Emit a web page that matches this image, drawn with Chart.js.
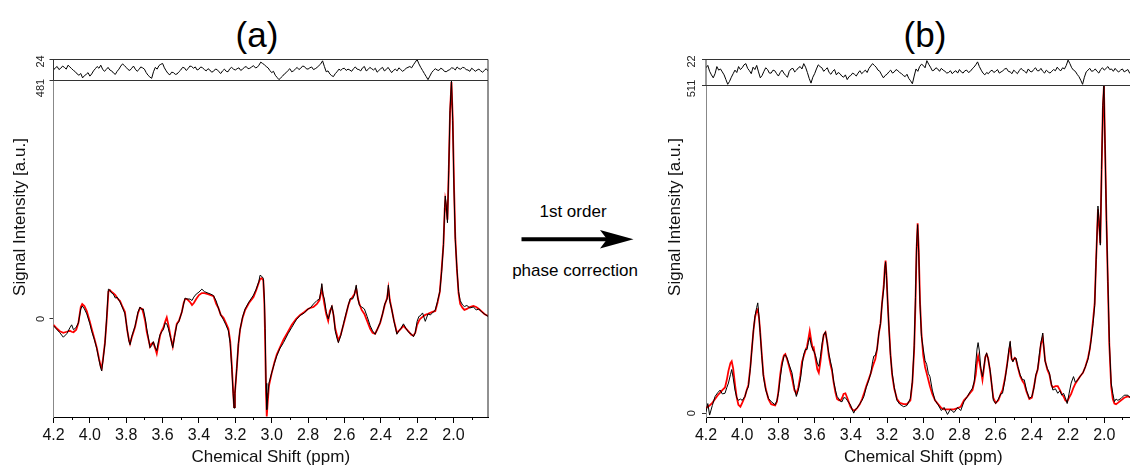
<!DOCTYPE html>
<html>
<head>
<meta charset="utf-8">
<script src="https://cdn.jsdelivr.net/npm/chart.js@4.4.1/dist/chart.umd.min.js"></script>
<style>
  html, body { margin: 0; padding: 0; background: #fff; }
  body { position: relative; width: 1130px; height: 468px; overflow: hidden; font-family: 'Liberation Sans', Arial, sans-serif; }
  canvas { position: absolute; top: 0; }
  .txt { position: absolute; transform: translate(-50%, -50%); white-space: nowrap; color: #000; line-height: 1; }
</style>
</head>
<body>
<div class="txt" style="left:257px;top:34px;font-size:35px;">(a)</div>
<div class="txt" style="left:925px;top:34px;font-size:35px;">(b)</div>
<div class="txt" style="left:573px;top:211px;font-size:17px;">1st order</div>
<div class="txt" style="left:575px;top:270px;font-size:17px;">phase correction</div>
<svg style="position:absolute;left:515px;top:225px" width="125" height="30">
  <line x1="6.5" y1="14.3" x2="96" y2="14.3" stroke="#000" stroke-width="4"/>
  <polygon points="118.5,14.3 85,5 92,14.3 85,23.6" fill="#000"/>
</svg>
<canvas id="mainA" width="500" height="468" style="left:0"></canvas>
<canvas id="resA" width="500" height="468" style="left:0"></canvas>
<canvas id="mainB" width="510" height="468" style="left:640px"></canvas>
<canvas id="resB" width="510" height="468" style="left:640px"></canvas>
<script>
// Phase correction figure: spectrum (black), fit (red), residual on top

Chart.defaults.font.family = "'Liberation Sans', Arial, sans-serif";
Chart.defaults.color = '#111';

// x axis ticks (ppm)
const xTicks = [4.2, 4.0, 3.8, 3.6, 3.4, 3.2, 3.0, 2.8, 2.6, 2.4, 2.2, 2.0];
const xMinorTicks = [4.1, 3.9, 3.7, 3.5, 3.3, 3.1, 2.9, 2.7, 2.5, 2.3, 2.1, 1.9];

// y axis ticks
const yTicksA = [0, 481];
const resTicksA = [24];
const yTicksB = [0, 511];
const resTicksB = [22];

// (a) before 1st order phase correction
const ppmA = [
  4.200,4.185,4.165,4.146,4.127,4.110,4.100,4.090,4.075,4.063,
  4.050,4.042,4.030,4.017,4.000,3.990,3.975,3.962,3.950,3.940,
  3.935,3.928,3.917,3.908,3.898,3.890,3.880,3.871,3.860,3.850,
  3.834,3.820,3.807,3.795,3.785,3.779,3.770,3.751,3.735,3.724,
  3.712,3.706,3.695,3.687,3.675,3.669,3.660,3.651,3.640,3.632,
  3.622,3.614,3.605,3.596,3.585,3.577,3.568,3.555,3.544,3.535,
  3.522,3.510,3.494,3.484,3.476,3.465,3.449,3.438,3.428,3.415,
  3.400,3.384,3.370,3.350,3.335,3.320,3.305,3.293,3.280,3.265,
  3.252,3.238,3.228,3.219,3.212,3.207,3.202,3.192,3.183,3.174,
  3.160,3.146,3.125,3.100,3.085,3.070,3.064,3.055,3.046,3.040,
  3.036,3.031,3.027,3.022,3.015,3.000,2.985,2.972,2.955,2.935,
  2.910,2.889,2.865,2.843,2.820,2.800,2.788,2.770,2.751,2.737,
  2.730,2.724,2.718,2.710,2.700,2.689,2.680,2.669,2.660,2.650,
  2.640,2.633,2.620,2.605,2.590,2.578,2.568,2.555,2.545,2.535,
  2.525,2.517,2.505,2.490,2.475,2.458,2.445,2.431,2.420,2.403,
  2.390,2.378,2.365,2.358,2.350,2.340,2.327,2.311,2.300,2.290,
  2.275,2.260,2.245,2.232,2.220,2.210,2.200,2.190,2.183,2.170,
  2.155,2.140,2.128,2.115,2.100,2.088,2.075,2.065,2.055,2.048,
  2.045,2.040,2.033,2.026,2.019,2.011,2.004,1.997,1.990,1.981,
  1.972,1.963,1.950,1.940,1.926,1.910,1.890,1.875,1.860,1.845,
  1.830,1.810
];
const dataA = [
  -14,-20,-28,-37,-30,-18,-12,-22,-17,-8,
  20,26,20,10,-10,-25,-42,-60,-82,-100,
  -105,-85,-50,0,60,58,52,50,42,44,
  34,22,10,-20,-45,-52,-36,-14,14,24,
  18,20,0,-20,-45,-58,-54,-46,-58,-64,
  -44,-32,-26,-22,-8,-10,-20,-40,-58,-38,
  -12,-5,14,30,42,40,40,37,44,50,
  54,60,55,52,50,47,36,22,8,-2,
  -12,-24,-50,-102,-150,-180,-150,-100,-50,-22,
  4,20,34,48,60,76,88,86,82,40,
  -20,-130,-183,-160,-130,-109,-90,-75,-60,-48,
  -30,-17,-2,7,12,20,22,30,37,40,
  55,71,50,40,15,0,10,27,10,-25,
  -40,-48,-34,-10,12,28,41,40,48,68,
  40,27,24,20,5,-14,-24,-31,-22,-7,
  10,30,40,68,35,20,-5,-31,-24,-20,
  -10,-20,-28,-30,-36,-28,-5,5,6,12,
  -5,10,8,12,18,35,55,95,150,225,
  248,230,194,300,420,481,400,260,160,102,
  55,37,28,25,27,22,24,18,20,14,
  10,5
];
const fitA = [
  -12,-18,-25,-28,-26,-24,-26,-27,-22,-8,
  24,30,26,16,-6,-20,-40,-58,-80,-96,
  -100,-82,-48,-5,55,58,54,52,48,42,
  36,24,14,-22,-42,-50,-38,-16,12,22,
  20,12,-6,-26,-46,-56,-50,-48,-60,-70,
  -50,-34,-24,-18,-5,3,-12,-38,-56,-36,
  -10,-4,14,32,40,40,34,28,32,40,
  48,52,52,50,48,46,30,22,8,2,
  -8,-20,-45,-95,-145,-178,-150,-100,-52,-22,
  2,18,32,44,58,74,80,82,78,30,
  -40,-150,-197,-170,-135,-110,-88,-72,-58,-42,
  -26,-12,0,8,14,20,22,24,30,38,
  50,62,48,30,10,-4,16,24,8,-20,
  -34,-44,-32,-12,10,28,38,44,50,62,
  40,30,18,10,-4,-20,-28,-30,-22,-8,
  10,28,42,62,38,20,-4,-28,-24,-20,
  -14,-20,-26,-32,-34,-28,-12,-4,0,4,
  8,10,12,14,16,32,55,100,150,222,
  240,228,200,298,415,478,405,270,165,100,
  52,30,22,18,20,24,26,24,20,15,
  10,6
];

// (b) after 1st order phase correction
const ppmB = [
  4.200,4.190,4.180,4.165,4.150,4.135,4.122,4.110,4.095,4.085,
  4.076,4.065,4.058,4.050,4.040,4.030,4.021,4.010,4.000,3.985,
  3.975,3.966,3.955,3.948,3.938,3.929,3.920,3.914,3.907,3.901,
  3.892,3.883,3.870,3.855,3.840,3.818,3.808,3.800,3.790,3.781,
  3.770,3.762,3.752,3.740,3.725,3.712,3.701,3.690,3.679,3.670,
  3.661,3.650,3.642,3.635,3.627,3.618,3.610,3.605,3.595,3.585,
  3.577,3.568,3.558,3.550,3.540,3.530,3.522,3.512,3.504,3.495,
  3.485,3.476,3.465,3.456,3.448,3.440,3.430,3.420,3.410,3.402,
  3.392,3.384,3.375,3.365,3.350,3.338,3.328,3.315,3.300,3.290,
  3.280,3.273,3.265,3.255,3.245,3.236,3.228,3.218,3.212,3.208,
  3.203,3.196,3.190,3.181,3.172,3.160,3.145,3.130,3.108,3.090,
  3.071,3.060,3.050,3.043,3.037,3.031,3.025,3.018,3.010,3.000,
  2.990,2.981,2.972,2.963,2.950,2.935,2.918,2.900,2.885,2.866,
  2.850,2.830,2.810,2.793,2.775,2.756,2.740,2.728,2.718,2.710,
  2.703,2.697,2.690,2.682,2.673,2.665,2.657,2.650,2.642,2.631,
  2.620,2.613,2.600,2.585,2.572,2.562,2.550,2.543,2.535,2.527,
  2.520,2.512,2.505,2.495,2.488,2.478,2.465,2.452,2.442,2.430,
  2.414,2.400,2.388,2.378,2.368,2.358,2.350,2.340,2.333,2.327,
  2.315,2.303,2.292,2.284,2.270,2.257,2.245,2.235,2.225,2.215,
  2.205,2.195,2.183,2.170,2.160,2.146,2.132,2.118,2.105,2.090,
  2.080,2.072,2.062,2.053,2.045,2.035,2.028,2.022,2.015,2.008,
  2.002,1.996,1.988,1.980,1.972,1.962,1.953,1.944,1.935,1.925,
  1.907,1.890,1.870,1.850,1.830,1.810
];
const dataB = [
  2,15,-3,12,26,32,36,30,31,40,
  47,60,68,55,36,24,20,22,20,26,
  36,41,70,94,130,152,165,172,150,126,
  90,57,36,23,18,13,20,31,55,73,
  88,91,86,75,63,40,26,36,52,72,
  91,100,99,110,118,105,100,97,90,78,
  73,88,110,122,127,108,94,80,70,50,
  36,26,22,18,18,24,24,20,16,13,
  5,0,6,8,15,20,26,40,52,62,
  80,89,90,100,125,140,170,195,225,236,
  215,170,136,90,63,40,20,14,10,12,
  23,50,105,180,260,294,250,170,120,100,
  82,76,62,57,36,20,13,4,9,-2,
  6,1,9,4,18,26,34,39,50,78,
  100,110,97,70,57,72,88,94,85,68,
  40,20,15,22,30,31,50,63,78,100,
  112,85,80,86,86,73,60,52,52,36,
  23,26,40,60,68,94,110,125,100,81,
  70,63,45,36,38,31,35,28,31,24,
  15,30,47,57,48,52,58,63,72,84,
  100,115,140,168,240,323,295,262,380,480,
  511,420,300,205,110,47,31,18,22,20,
  23,28,28,22,25,22
];
const fitB = [
  8,10,12,16,22,28,32,36,40,52,
  66,78,81,70,45,24,13,10,16,26,
  36,44,72,96,128,150,160,162,148,128,
  92,60,38,22,14,12,18,34,60,78,
  90,92,84,72,55,36,30,40,58,80,
  88,98,104,115,128,112,100,102,85,68,
  63,80,105,122,126,110,90,75,66,48,
  32,22,20,20,24,30,31,24,16,10,
  6,4,5,8,14,22,30,42,54,62,
  72,78,84,100,125,140,170,200,228,238,
  215,170,136,92,60,38,22,16,14,14,
  20,48,100,170,255,296,255,175,125,90,
  72,62,52,42,30,20,14,8,6,6,
  6,6,8,10,20,26,32,36,48,60,
  80,89,80,68,52,70,88,92,86,66,
  40,24,16,20,30,36,52,64,80,95,
  105,85,82,86,84,72,58,50,46,34,
  22,24,42,58,68,88,108,118,100,82,
  68,60,44,40,42,42,36,30,26,20,
  18,24,30,40,46,52,58,63,72,86,
  100,118,145,172,240,318,292,265,375,475,
  510,420,300,200,105,42,22,15,14,16,
  20,24,26,24,22,20
];

// residuals (same ppm grid for both panels)
const resPpm = [
  4.20,4.19,4.18,4.17,4.16,4.15,4.14,4.13,4.12,4.11,4.10,4.09,4.08,4.07,4.06,4.05,4.04,4.03,4.02,4.01,
  4.00,3.99,3.98,3.97,3.96,3.95,3.94,3.93,3.92,3.91,3.90,3.89,3.88,3.87,3.86,3.85,3.84,3.83,3.82,3.81,
  3.80,3.79,3.78,3.77,3.76,3.75,3.74,3.73,3.72,3.71,3.70,3.69,3.68,3.67,3.66,3.65,3.64,3.63,3.62,3.61,
  3.60,3.59,3.58,3.57,3.56,3.55,3.54,3.53,3.52,3.51,3.50,3.49,3.48,3.47,3.46,3.45,3.44,3.43,3.42,3.41,
  3.40,3.39,3.38,3.37,3.36,3.35,3.34,3.33,3.32,3.31,3.30,3.29,3.28,3.27,3.26,3.25,3.24,3.23,3.22,3.21,
  3.20,3.19,3.18,3.17,3.16,3.15,3.14,3.13,3.12,3.11,3.10,3.09,3.08,3.07,3.06,3.05,3.04,3.03,3.02,3.01,
  3.00,2.99,2.98,2.97,2.96,2.95,2.94,2.93,2.92,2.91,2.90,2.89,2.88,2.87,2.86,2.85,2.84,2.83,2.82,2.81,
  2.80,2.79,2.78,2.77,2.76,2.75,2.74,2.73,2.72,2.71,2.70,2.69,2.68,2.67,2.66,2.65,2.64,2.63,2.62,2.61,
  2.60,2.59,2.58,2.57,2.56,2.55,2.54,2.53,2.52,2.51,2.50,2.49,2.48,2.47,2.46,2.45,2.44,2.43,2.42,2.41,
  2.40,2.39,2.38,2.37,2.36,2.35,2.34,2.33,2.32,2.31,2.30,2.29,2.28,2.27,2.26,2.25,2.24,2.23,2.22,2.21,
  2.20,2.19,2.18,2.17,2.16,2.15,2.14,2.13,2.12,2.11,2.10,2.09,2.08,2.07,2.06,2.05,2.04,2.03,2.02,2.01,
  2.00,1.99,1.98,1.97,1.96,1.95,1.94,1.93,1.92,1.91,1.90,1.89,1.88,1.87,1.86,1.85,1.84,1.83,1.82,1.81
];
const resA = [
  0,5,8,1,4,9,6,2,11,7,3,-1,-4,-9,-12,-8,-18,-13,-10,-6,
  -14,-9,-2,3,8,4,11,2,-3,1,6,0,-2,-7,-10,-3,2,9,14,10,
  6,1,-1,4,9,2,-3,1,7,5,2,-6,-12,-16,-19,-4,6,2,10,13,
  15,5,-2,-8,-11,-5,-6,-10,-9,-4,0,6,5,-1,3,9,8,4,7,0,
  2,7,5,1,-2,3,0,-5,-3,2,1,-4,-8,-2,2,-3,-4,3,6,2,
  0,3,5,-1,2,6,8,3,4,7,10,5,6,11,18,15,12,8,5,-1,
  -6,-3,-12,-17,-22,-18,-14,-9,-6,-1,3,-4,-2,2,6,1,4,9,8,3,
  2,5,7,1,3,6,10,14,21,8,-4,-2,-9,-13,-15,-8,-4,2,-1,3,
  4,-1,2,0,-3,3,7,2,1,-2,5,8,-2,1,6,3,0,4,-5,-1,
  3,6,-2,1,6,0,-6,-1,2,-2,5,1,-3,0,4,6,8,5,12,18,
  24,14,6,-1,-8,-15,-22,-14,-6,-1,3,0,-1,4,2,-3,-4,-1,1,5,
  4,0,7,3,2,6,5,1,0,-3,4,1,-3,0,2,-2,-5,-1,3,-2
];
const resB = [
  8,12,2,-4,-9,-2,10,4,6,1,-4,-12,-20,-15,-8,-2,4,0,10,5,
  8,13,15,7,3,-2,9,5,12,1,-9,-5,2,8,5,-1,-1,4,3,-2,
  -6,0,4,-1,-5,-8,2,6,7,1,4,8,10,6,15,9,0,-10,-18,-8,
  -2,6,13,10,8,2,5,8,0,-3,2,5,-4,0,-2,-6,-8,-4,-12,-7,
  -5,-1,-3,-6,-1,3,-2,1,4,0,7,11,15,12,9,4,2,-4,-9,-5,
  -3,1,4,-1,1,5,3,0,-2,-5,-7,-3,-10,-14,-19,-6,6,2,10,14,
  12,8,20,14,9,3,4,8,6,2,7,4,2,-1,0,3,-2,1,3,-1,
  5,1,-1,3,4,0,2,6,9,13,18,10,4,-1,-4,0,-2,2,4,0,
  2,5,-1,1,3,6,7,2,1,-2,4,1,-2,3,7,4,2,-1,6,2,
  1,5,8,3,3,7,2,-1,4,1,-1,2,5,3,9,5,3,8,6,12,
  21,15,8,4,2,-3,-7,-13,-20,-8,1,4,7,2,3,6,2,-1,5,8,
  4,7,10,5,6,2,7,3,1,4,6,1,3,5,-1,2,4,0,2,5
];

function pts(xs, ys) {
  return xs.map((x, i) => ({ x: x, y: ys[i] }));
}

// Frame, minor ticks, rotated y labels and y title
const panelDecor = {
  id: 'panelDecor',
  afterDraw(chart, args, o) {
    const ctx = chart.ctx;
    const a = chart.chartArea;
    const xs = chart.scales.x;
    const ys = chart.scales.y;
    ctx.save();
    ctx.lineWidth = 1;
    ctx.strokeStyle = o.frameColor;
    ctx.beginPath();
    if (o.closed) {
      ctx.rect(a.left, a.top, a.right - a.left, a.bottom - a.top);
    } else {
      ctx.moveTo(a.left, a.top);
      ctx.lineTo(a.right, a.top);
      ctx.lineTo(a.right, a.bottom);
    }
    ctx.stroke();

    if (o.minorTicks) {
      ctx.strokeStyle = '#000';
      ctx.beginPath();
      o.minorTicks.forEach(v => {
        const px = Math.round(xs.getPixelForValue(v)) + 0.5;
        ctx.moveTo(px, a.bottom);
        ctx.lineTo(px, a.bottom + 3);
      });
      ctx.stroke();
    }

    ctx.fillStyle = '#222';
    ctx.font = "11px 'Liberation Sans', Arial, sans-serif";
    ctx.textAlign = 'center';
    ctx.textBaseline = 'middle';
    o.yLabels.forEach((v, i) => {
      ctx.save();
      ctx.translate(a.left - o.labelGap, ys.getPixelForValue(v) + (o.labelShift[i] || 0));
      ctx.rotate(-Math.PI / 2);
      ctx.fillText(String(v), 0, 0);
      ctx.restore();
    });

    if (o.title) {
      ctx.fillStyle = '#111';
      ctx.font = "17px 'Liberation Sans', Arial, sans-serif";
      ctx.save();
      ctx.translate(a.left - o.titleGap, o.titleY);
      ctx.rotate(-Math.PI / 2);
      ctx.fillText(o.title, 0, 0);
      ctx.restore();
    }
    ctx.restore();
  }
};

function makePanel(p) {
  // main spectrum + fit
  new Chart(document.getElementById(p.mainId), {
    type: 'line',
    data: {
      datasets: [
        { data: pts(p.ppm, p.data), borderColor: '#000', borderWidth: 1 },
        { data: pts(p.ppm, p.fit), borderColor: '#ff0000', borderWidth: 1.8 }
      ]
    },
    options: {
      responsive: false,
      animation: false,
      events: [],
      layout: { padding: { left: 0, top: p.mainTop, right: p.padR, bottom: 0 } },
      elements: { point: { radius: 0 }, line: { tension: 0 } },
      plugins: {
        legend: { display: false },
        tooltip: { enabled: false },
        panelDecor: {
          closed: false, frameColor: '#222', minorTicks: xMinorTicks,
          yLabels: p.yTicks, labelShift: p.mainShift, labelGap: p.labelGap,
          title: 'Signal Intensity [a.u.]', titleGap: p.titleGap, titleY: 217
        }
      },
      scales: {
        x: {
          type: 'linear', reverse: true, min: p.xMin, max: 4.2,
          afterBuildTicks: s => { s.ticks = xTicks.map(v => ({ value: v })); },
          afterFit: s => { s.height = 51; s.paddingLeft = 0; s.paddingRight = 0; },
          ticks: { font: { size: 16 }, color: '#111', padding: 3, maxRotation: 0, autoSkip: false,
                   callback: v => Number(v).toFixed(1) },
          grid: { drawOnChartArea: false, tickLength: 6, color: '#000' },
          border: { color: '#000', width: 1 },
          title: { display: true, text: 'Chemical Shift (ppm)', font: { size: 17 }, color: '#111', padding: 0 }
        },
        y: {
          min: p.yMin, max: p.yMax,
          afterBuildTicks: s => { s.ticks = p.yTicks.map(v => ({ value: v })); },
          afterFit: s => { s.width = p.axisLeft; },
          ticks: { display: false },
          grid: { drawOnChartArea: false, tickLength: 4, color: '#333' },
          border: { color: '#888', width: 1 }
        }
      }
    },
    plugins: [panelDecor]
  });

  // residual strip
  new Chart(document.getElementById(p.resId), {
    type: 'line',
    data: {
      datasets: [
        { data: pts(resPpm, p.res), borderColor: '#000', borderWidth: 1 }
      ]
    },
    options: {
      responsive: false,
      animation: false,
      events: [],
      layout: { padding: { left: 0, top: 59.5, right: p.padR, bottom: 468 - p.mainTop } },
      elements: { point: { radius: 0 }, line: { tension: 0 } },
      plugins: {
        legend: { display: false },
        tooltip: { enabled: false },
        panelDecor: {
          closed: true, frameColor: '#333', minorTicks: null,
          yLabels: p.resTicks, labelShift: [2], labelGap: p.labelGap, title: null
        }
      },
      scales: {
        x: { type: 'linear', reverse: true, min: p.xMin, max: 4.2, display: false },
        y: {
          min: -p.resMax, max: p.resMax,
          afterBuildTicks: s => { s.ticks = p.resTicks.map(v => ({ value: v })); },
          afterFit: s => { s.width = p.axisLeft; },
          ticks: { display: false },
          grid: { drawOnChartArea: false, tickLength: 4, color: '#333' },
          border: { display: false }
        }
      }
    },
    plugins: [panelDecor]
  });
}

makePanel({
  mainId: 'mainA', resId: 'resA',
  ppm: ppmA, data: dataA, fit: fitA, res: resA,
  yTicks: yTicksA, resTicks: resTicksA,
  yMin: -198, yMax: 481, resMax: 24, xMin: 1.81,
  axisLeft: 53.5, padR: 12, mainTop: 80.5,
  labelGap: 12.5, mainShift: [0, 7.5], titleGap: 33
});

makePanel({
  mainId: 'mainB', resId: 'resB',
  ppm: ppmB, data: dataB, fit: fitB, res: resB,
  yTicks: yTicksB, resTicks: resTicksB,
  yMin: -6, yMax: 511, resMax: 22, xMin: 1.80,
  axisLeft: 66, padR: 9.5, mainTop: 85.5,
  labelGap: 14, mainShift: [0, 3], titleGap: 31
});
</script>
</body>
</html>
